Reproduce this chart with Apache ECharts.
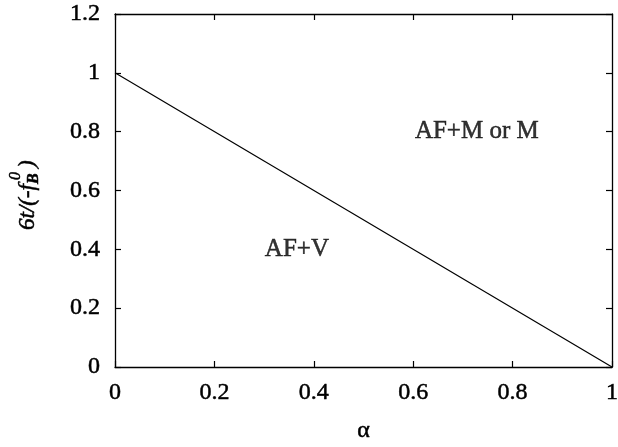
<!DOCTYPE html>
<html><head><meta charset="utf-8">
<script src="https://cdn.jsdelivr.net/npm/echarts@6/dist/echarts.min.js"></script>
<style>html,body{margin:0;padding:0;background:#fff}#c{width:618px;height:447px}</style>
</head><body><div id="c"></div>
<script>
const alphaVals = [0, 1];
const boundaryVals = [1, 0];
const xTicks = [0, 0.2, 0.4, 0.6, 0.8, 1];
const yTicks = [0, 0.2, 0.4, 0.6, 0.8, 1, 1.2];
const regionNames = ['AF+M or M', 'AF+V'];
const regionX = [0.728, 0.366];
const regionY = [0.80, 0.398];
const FONT = '"Liberation Serif", "Times New Roman", serif';
const TB = {textBorderColor: '#000', textBorderWidth: 0.5};
const GS = {fill: '#000', stroke: '#000', lineWidth: 0.5, verticalAlign: 'middle', align: 'left'};
const chart = echarts.init(document.getElementById('c'));
function tick() { return {show: true, inside: true, length: 6, lineStyle: {color: '#000', width: 1.2}}; }
function aline() { return {show: true, onZero: false, lineStyle: {color: '#000', width: 1.3}}; }
const ylabelFont = 'italic 23px ' + FONT;
chart.setOption({
  animation: false,
  grid: {left: 115, right: 6, top: 14, bottom: 80, outerBoundsMode: 'none', containLabel: false},
  xAxis: [{
    type: 'value', min: 0, max: 1, interval: 0.2,
    name: 'α', nameLocation: 'middle', nameGap: 52,
    nameTextStyle: Object.assign({fontFamily: FONT, fontSize: 24, color: '#000'}, TB),
    axisLine: aline(), axisTick: tick(), splitLine: {show: false},
    axisLabel: Object.assign({margin: 14, fontFamily: FONT, fontSize: 24, color: '#000',
      formatter: v => String(+(+v).toFixed(1))}, TB)
  }, {
    type: 'value', min: 0, max: 1, interval: 0.2, position: 'top',
    axisLine: aline(), axisTick: tick(), axisLabel: {show: false}, splitLine: {show: false}
  }],
  yAxis: [{
    type: 'value', min: 0, max: 1.2, interval: 0.2,
    axisLine: aline(), axisTick: tick(), splitLine: {show: false},
    axisLabel: Object.assign({margin: 15, fontFamily: FONT, fontSize: 24, color: '#000',
      formatter: v => String(+(+v).toFixed(1))}, TB)
  }, {
    type: 'value', min: 0, max: 1.2, interval: 0.2, position: 'right',
    axisLine: aline(), axisTick: tick(), axisLabel: {show: false}, splitLine: {show: false}
  }],
  graphic: [{
    type: 'group', x: 37, y: 230, rotation: Math.PI / 2,
    children: [
      {type: 'text', x: 0, y: -9, style: Object.assign({}, GS, {text: '6t/(-f', font: ylabelFont})},
      {type: 'text', x: 46, y: -3, style: Object.assign({}, GS, {text: 'B', font: 'italic bold 16px ' + FONT})},
      {type: 'text', x: 50, y: -21, style: Object.assign({}, GS, {text: '0', font: 'italic 16px ' + FONT})},
      {type: 'text', x: 62, y: -9, style: Object.assign({}, GS, {text: ')', font: ylabelFont})}
    ]
  }],
  series: [{
    type: 'line',
    data: alphaVals.map((a, i) => [a, boundaryVals[i]]),
    symbol: 'none',
    lineStyle: {color: '#000', width: 1.2},
    silent: true
  }, {
    type: 'scatter',
    data: regionNames.map((n, i) => ({value: [regionX[i], regionY[i]], name: n})),
    symbolSize: 0,
    label: Object.assign({show: true, position: 'inside', formatter: p => p.name,
      fontFamily: FONT, fontSize: 25, color: '#000'}, TB),
    silent: true
  }]
});
</script></body></html>
